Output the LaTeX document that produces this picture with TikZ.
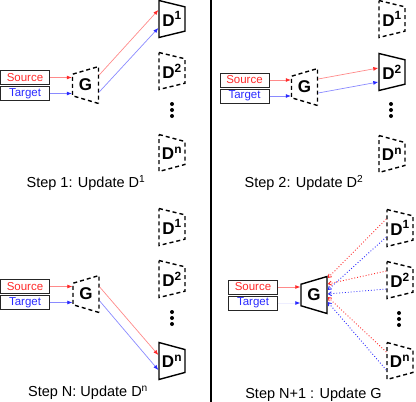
\documentclass[tikz,border=0pt]{standalone}
\usepackage{fontspec}
\setmainfont{Liberation Sans}
\usetikzlibrary{arrows.meta, shapes.geometric, calc}
\definecolor{csrc}{HTML}{FF2A2A}
\definecolor{ctgt}{HTML}{2A2AFF}
\tikzset{
  every picture/.style={line width=1pt},
  inbox/.style={draw=black!85, line width=1pt, minimum width=49pt, minimum height=14pt, inner sep=0pt, font=\fontsize{11.5}{12}\selectfont, text=#1},
  net/.style={trapezium, trapezium stretches=true, draw, line width=1.4pt, inner sep=0pt, minimum width=37pt, minimum height=26pt, font=\fontsize{17}{17}\selectfont\bfseries},
  gen/.style={net, shape border rotate=90, trapezium left angle=72, trapezium right angle=72},
  disc/.style={net, shape border rotate=270, trapezium left angle=79, trapezium right angle=79},
  frozen/.style={dash pattern=on 4pt off 3pt},
  feed/.style={draw=#1!55, line width=0.7pt, -{Latex[length=5pt, width=4pt, color=#1]}},
  grad/.style={draw=#1, line width=0.9pt, dotted, -{Straight Barb[length=3pt, width=4pt]}},
  caption/.style={font=\fontsize{14.5}{16}\selectfont},
}
\begin{document}
\begin{tikzpicture}[x=1pt, y=-1pt]
  \useasboundingbox (0,0) rectangle (416,402);
  \draw[line width=1.3pt] (211,0) -- (211,402);
  % step 1: only D1 is trained
  \node[inbox=csrc] (srcA) at (25,77.5) {Source};
  \node[inbox=ctgt] (tgtA) at (25,93.5) {Target};
  \node[gen, frozen] (genA) at (85.5,85) {G};
  \foreach \n/\y/\s in {1/19/solid, 2/71/frozen, n/153/frozen}
    \node[disc, \s] (dA\n) at (172,\y) {D\textsuperscript{\n}};
  \foreach \y in {104,110,116} \fill (172,\y) circle (2pt);
  \draw[feed=csrc] (srcA.east) -- (srcA.east -| genA.west);
  \draw[feed=ctgt] (tgtA.east) -- (tgtA.east -| genA.west);
  \draw[feed=csrc] ([yshift=10pt]genA.east) -- ([yshift=9pt]dA1.west);
  \draw[feed=ctgt] ([yshift=-7pt]genA.east) -- ([yshift=-9pt]dA1.west);
  \node[caption] (capA) at (86,183) {Step 1: Update D\textsuperscript{1}};
  % step 2: only D2 is trained
  \node[inbox=csrc] (srcB) at (244.5,80) {Source};
  \node[inbox=ctgt] (tgtB) at (244.5,96) {Target};
  \node[gen, frozen] (genB) at (304.5,87) {G};
  \foreach \n/\y/\s in {1/19/frozen, 2/72/solid, n/154/frozen}
    \node[disc, \s] (dB\n) at (392,\y) {D\textsuperscript{\n}};
  \foreach \y in {104,110,116} \fill (391,\y) circle (2pt);
  \draw[feed=csrc] (srcB.east) -- (srcB.east -| genB.west);
  \draw[feed=ctgt] (tgtB.east) -- (tgtB.east -| genB.west);
  \draw[feed=csrc] ([yshift=8pt]genB.east) -- ([yshift=4pt]dB2.west);
  \draw[feed=ctgt] ([yshift=-6pt]genB.east) -- ([yshift=-10pt]dB2.west);
  \node[caption] (capB) at (304,183) {Step 2: Update D\textsuperscript{2}};
  % step N: only Dn is trained
  \node[inbox=csrc] (srcC) at (25,286.5) {Source};
  \node[inbox=ctgt] (tgtC) at (25,302.5) {Target};
  \node[gen, frozen] (genC) at (86,294) {G};
  \foreach \n/\y/\s in {1/227/frozen, 2/279/frozen, n/361/solid}
    \node[disc, \s] (dC\n) at (172,\y) {D\textsuperscript{\n}};
  \foreach \y in {312,318,324} \fill (172,\y) circle (2pt);
  \draw[feed=csrc] (srcC.east) -- (srcC.east -| genC.west);
  \draw[feed=ctgt] (tgtC.east) -- (tgtC.east -| genC.west);
  \draw[feed=csrc] ([yshift=7pt]genC.east) -- ([yshift=6pt]dCn.west);
  \draw[feed=ctgt] ([yshift=-7pt]genC.east) -- ([yshift=-9pt]dCn.west);
  \node[caption] (capC) at (88,393) {Step N: Update D\textsuperscript{n}};
  % step N+1: G is trained against all D
  \node[inbox=csrc] (srcD) at (253,287) {Source};
  \node[inbox=ctgt] (tgtD) at (253,303) {Target};
  \node[gen] (genD) at (314,295) {G};
  \foreach \n/\y in {1/228, 2/280, n/361}
    \node[disc, frozen] (dD\n) at (400,\y) {D\textsuperscript{\n}};
  \foreach \y in {313,319,325} \fill (399,\y) circle (2pt);
  \draw[feed=csrc] (srcD.east) -- (srcD.east -| genD.west);
  \draw[feed=ctgt, draw=ctgt!8] (tgtD.east) -- (tgtD.east -| genD.west);
  \foreach \n/\r/\b in {1/17/5, 2/11/1, n/-2/-7} {
    \draw[grad=csrc] ([yshift=9pt]dD\n.west) -- ([yshift=\r pt]genD.east);
    \draw[grad=ctgt] ([yshift=-9pt]dD\n.west) -- ([yshift=\b pt]genD.east);
  }
  \node[caption] (capD) at (313.5,395) {Step N+1 : Update G};
\end{tikzpicture}
\end{document}
